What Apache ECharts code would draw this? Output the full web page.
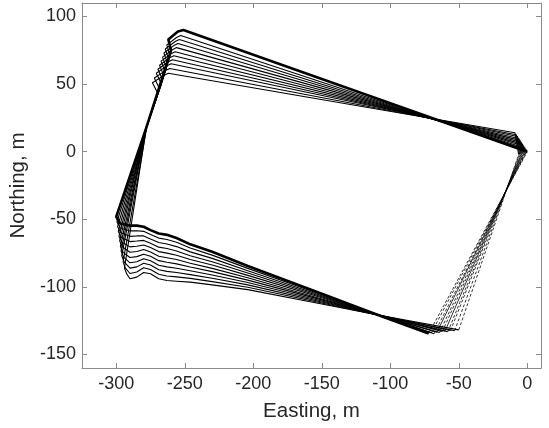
<!DOCTYPE html>
<html>
<head>
<meta charset="utf-8">
<script src="https://cdn.jsdelivr.net/npm/echarts@6/dist/echarts.min.js"></script>
<style>
html, body { margin: 0; padding: 0; background: #fff; }
#chart { width: 549px; height: 428px; }
</style>
</head>
<body>
<div id="chart"></div>
<script>
// tick labels
var xTicks = [-300, -250, -200, -150, -100, -50, 0];
var yTicks = [-150, -100, -50, 0, 50, 100];

// one entry per track (11 tracks)
// top end of the dashed return leg
var startX = [0, -0.6, -1.2, -1.9, -2.5, -3.1, -3.8, -4.4, -5.0, -5.7, -6.3];
var startY = [0, -0.2, -0.4, -0.6, -0.8, -1.0, -1.2, -1.4, -1.6, -1.8, -2.0];
// north-east corner
var neX = [0, -0.8, -1.7, -2.6, -3.5, -4.4, -5.3, -6.2, -7.1, -8.0, -9.0];
var neY = [0, 1.4, 2.8, 4.2, 5.6, 7.0, 8.4, 9.8, 11.2, 12.6, 14.0];
// north-west corner
var nwX = [-251, -253, -254, -255, -256, -257, -258, -259, -260, -261, -262];
var nwY = [90, 86, 83, 80, 77, 74, 71, 68, 65, 61.5, 58];
// wiggle after the north-west corner
var bendX = [-255, -256, -257, -258, -259, -260, -261, -262, -263, -264, -265];
var bendY = [89, 84.5, 81.5, 78.5, 75.5, 72.5, 69.5, 66.5, 63.5, 60, 56.5];
var bulgeX = [-262, -263.1, -264.2, -265.2, -266.2, -267.3, -268.4, -269.6, -270.8, -272.2, -273.6];
var bulgeY = [83, 79, 76, 73, 70, 67, 64, 61, 58, 54.5, 51];
var backX = [-260, -260.8, -261.6, -262.5, -263.4, -264.3, -265.2, -266.1, -267, -268.4, -269.6];
var backY = [75, 71, 68, 65, 62, 59, 56, 53, 50, 46.5, 43];
// narrow waist on the west leg
var waistX = [-278, -277.8, -278.1, -277.9, -278, -278.2, -277.9, -278, -278.1, -277.8, -278];
var waistY = [18, 18.4, 17.8, 18.2, 18, 17.9, 18.3, 18, 18.1, 17.8, 18];
// south-west corner and the turn into the south leg
var swX = [-300, -299.5, -299, -298.5, -298, -297.5, -297, -296.5, -296, -295, -294];
var swY = [-48, -52, -55.5, -59, -62.5, -66, -70, -73.5, -77, -81.5, -86];
var turnX = [-297.5, -297, -296.6, -296.2, -295.8, -295.4, -295, -294.6, -294.2, -293.4, -292.5];
var turnY = [-53, -56.5, -60, -63.5, -67, -70.5, -74.5, -78, -81.5, -86, -90.2];
// south leg, sampled at these eastings
var southX = [-290, -285, -280, -275, -269, -263, -256, -246, -230, -204, -150, -108];
var south0 = [-54.7, -54.7, -55.5, -58.0, -60.5, -61.5, -63.8, -68.5, -74.0, -84.5, -105.0, -121.2];
var south1 = [-58.6, -58.5, -58.9, -61.2, -63.9, -64.9, -67.0, -71.3, -76.5, -86.3, -105.8, -121.0];
var south2 = [-62.6, -62.3, -62.3, -64.5, -67.2, -68.3, -70.2, -74.1, -78.9, -88.0, -106.5, -120.9];
var south3 = [-66.5, -66.1, -65.6, -67.7, -70.6, -71.6, -73.4, -76.9, -81.4, -89.8, -107.3, -121.2];
var south4 = [-70.4, -69.9, -69.0, -70.9, -73.9, -75.0, -76.6, -79.7, -83.8, -91.5, -108.1, -121.0];
var south5 = [-74.4, -73.8, -72.4, -74.2, -77.3, -78.4, -79.8, -82.5, -86.3, -93.3, -108.9, -120.8];
var south6 = [-78.3, -77.6, -75.8, -77.4, -80.6, -81.8, -83.0, -85.3, -88.7, -95.0, -109.6, -121.1];
var south7 = [-82.2, -81.4, -79.2, -80.6, -84.0, -85.2, -86.2, -88.1, -91.2, -96.8, -110.4, -121.0];
var south8 = [-86.1, -85.2, -82.5, -83.8, -87.3, -88.5, -89.4, -90.9, -93.6, -98.5, -111.2, -120.9];
var south9 = [-90.1, -89.0, -85.9, -87.1, -90.7, -91.9, -92.6, -93.7, -96.1, -100.3, -111.9, -121.2];
var south10 = [-94.0, -92.8, -89.3, -90.3, -94.0, -95.3, -95.8, -96.5, -98.5, -102.0, -112.7, -121.0];
// south-east end
var seX = [-72, -70, -68, -66, -64, -62, -60, -58, -56, -53, -50];
var seY = [-134.5, -134, -134.6, -133.6, -133.8, -133, -132.6, -133.2, -132.2, -132.4, -131.8];
// return legs drawn solid instead of dashed
var solidReturn = [3, 6];

var southRows = [south0, south1, south2, south3, south4, south5, south6, south7, south8, south9, south10];

var myChart = echarts.init(document.getElementById('chart'));
var series = [];

for (var k = 0; k < southRows.length; k++) {
    var pts = [
        [startX[k], startY[k]],
        [neX[k], neY[k]],
        [nwX[k], nwY[k]],
        [bendX[k], bendY[k]],
        [bulgeX[k], bulgeY[k]],
        [backX[k], backY[k]],
        [waistX[k], waistY[k]],
        [swX[k], swY[k]],
        [turnX[k], turnY[k]]
    ];
    for (var j = 0; j < southX.length; j++) {
        pts.push([southX[j], southRows[k][j]]);
    }
    pts.push([seX[k], seY[k]]);

    series.push({
        type: 'line',
        data: pts,
        showSymbol: false,
        silent: true,
        animation: false,
        lineStyle: { color: '#000', width: k === 0 ? 2.6 : 1.1 }
    });
    // return leg back to the start
    series.push({
        type: 'line',
        data: [[seX[k], seY[k]], [startX[k], startY[k]]],
        showSymbol: false,
        silent: true,
        animation: false,
        lineStyle: {
            color: '#000',
            width: 0.8,
            type: solidReturn.indexOf(k) >= 0 ? 'solid' : [3, 2]
        }
    });
}

var fontName = 'Liberation Sans, Arial, sans-serif';
var labelFont = { color: '#262626', fontSize: 18, fontFamily: fontName };
var nameFont = { color: '#262626', fontSize: 20.5, fontFamily: fontName };
var boxLine = { show: true, onZero: false, lineStyle: { color: '#8a8a8a', width: 1 } };
var tickIn = { show: true, inside: true, length: 5, lineStyle: { color: '#8a8a8a' } };

option = {
    backgroundColor: '#fff',
    grid: { left: 82, right: 8, top: 3, bottom: 60 },
    xAxis: [
        {
            type: 'value', min: -325, max: 10, position: 'bottom',
            axisLine: boxLine,
            axisTick: Object.assign({ customValues: xTicks }, tickIn),
            axisLabel: Object.assign({ customValues: xTicks, margin: 7 }, labelFont),
            splitLine: { show: false },
            name: 'Easting, m', nameLocation: 'middle', nameGap: 33,
            nameTextStyle: nameFont
        },
        {
            type: 'value', min: -325, max: 10, position: 'top',
            axisLine: boxLine,
            axisTick: Object.assign({ customValues: xTicks }, tickIn),
            axisLabel: { show: false },
            splitLine: { show: false }
        }
    ],
    yAxis: [
        {
            type: 'value', min: -160, max: 110, position: 'left',
            axisLine: boxLine,
            axisTick: Object.assign({ customValues: yTicks }, tickIn),
            axisLabel: Object.assign({ customValues: yTicks, margin: 6 }, labelFont),
            splitLine: { show: false },
            name: 'Northing, m', nameLocation: 'middle', nameGap: 38,
            nameTextStyle: nameFont
        },
        {
            type: 'value', min: -160, max: 110, position: 'right',
            axisLine: boxLine,
            axisTick: Object.assign({ customValues: yTicks }, tickIn),
            axisLabel: { show: false },
            splitLine: { show: false }
        }
    ],
    series: series
};

myChart.setOption(option);
</script>
</body>
</html>
